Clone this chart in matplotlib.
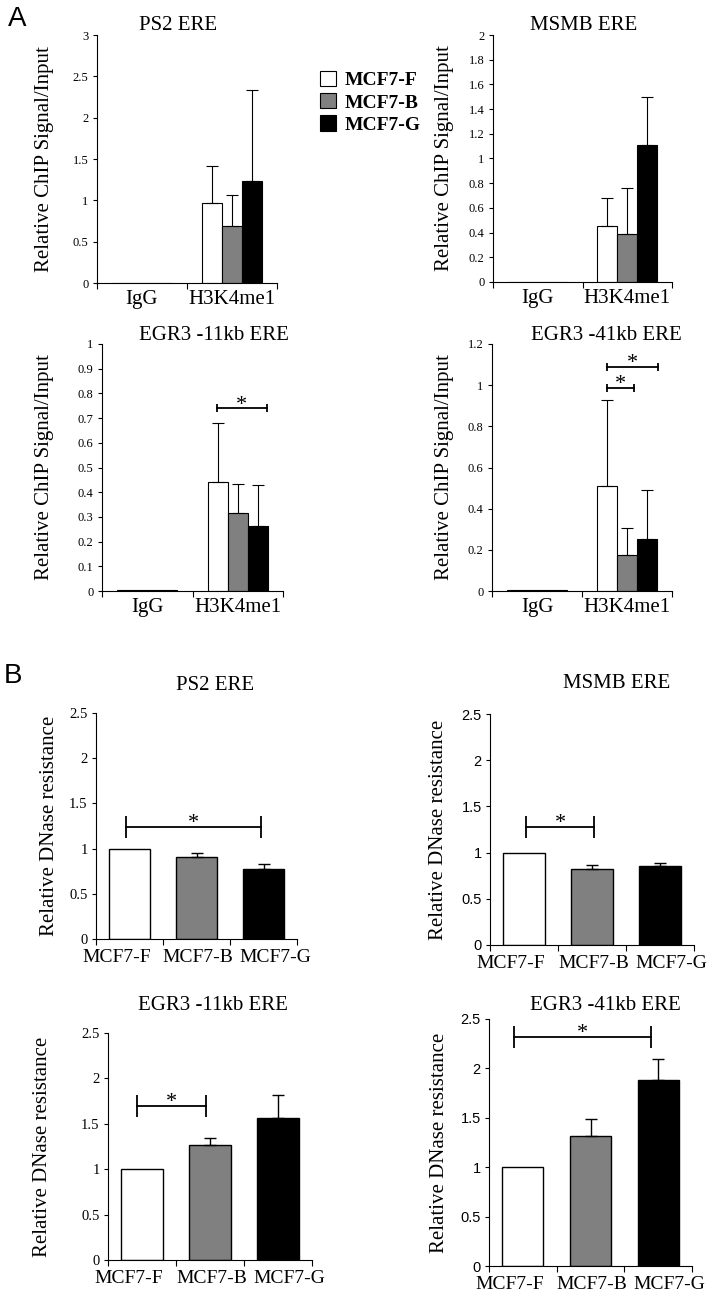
import numpy as np
import matplotlib.pyplot as plt
from matplotlib.ticker import FuncFormatter

W, H = 714, 1294
SERIF = 'Liberation Serif'
SANS = 'Liberation Sans'

lines = ['MCF7-F', 'MCF7-B', 'MCF7-G']
colors = ['white', '#808080', 'black']

# A: ChIP, per cell line -> [IgG, H3K4me1]
chip_cats = ['IgG', 'H3K4me1']
ps2_chip = [[0.004, 0.97], [0.004, 0.69], [0.005, 1.23]]
ps2_chip_err = [[0, 0.45], [0, 0.38], [0, 1.11]]
msmb_chip = [[0.002, 0.45], [0.003, 0.39], [0.003, 1.11]]
msmb_chip_err = [[0, 0.23], [0, 0.37], [0, 0.39]]
egr11_chip = [[0.004, 0.44], [0.004, 0.315], [0.004, 0.265]]
egr11_chip_err = [[0, 0.24], [0, 0.12], [0, 0.165]]
egr41_chip = [[0.004, 0.51], [0.004, 0.175], [0.004, 0.255]]
egr41_chip_err = [[0, 0.42], [0, 0.13], [0, 0.235]]

# B: DNase resistance, [F, B, G]
ps2_dnase = [1.0, 0.91, 0.775]
ps2_dnase_err = [0, 0.045, 0.055]
msmb_dnase = [1.0, 0.82, 0.85]
msmb_dnase_err = [0, 0.05, 0.04]
egr11_dnase = [1.0, 1.27, 1.56]
egr11_dnase_err = [0, 0.075, 0.26]
egr41_dnase = [1.0, 1.32, 1.88]
egr41_dnase_err = [0, 0.17, 0.22]

# significance brackets (x1, x2, y)
egr11_chip_sig = [(0.77, 1.32, 0.74)]
egr41_chip_sig = [(0.78, 1.08, 0.986), (0.78, 1.34, 1.088)]
ps2_dnase_sig = [(-0.05, 1.97, 1.24)]
msmb_dnase_sig = [(0.03, 1.03, 1.28)]
egr11_dnase_sig = [(-0.07, 0.94, 1.70)]
egr41_dnase_sig = [(-0.13, 1.89, 2.32)]

fig = plt.figure(figsize=(W / 100, H / 100), dpi=100)


def rect(l, t, r, b):
    return [l / W, 1 - b / H, (r - l) / W, (b - t) / H]


def fmt(v, pos):
    return f'{v:g}'


def base_axes(px, ncat, cats, ymax, step, tick_font, tick_size, cat_size, label_shift, pad):
    ax = fig.add_axes(rect(*px))
    ax.set_xlim(-0.5, ncat - 0.5)
    ax.set_ylim(0, ymax)
    for s in ['top', 'right']:
        ax.spines[s].set_visible(False)
    for s in ['left', 'bottom']:
        ax.spines[s].set_linewidth(0.8)
    ax.set_yticks(np.arange(0, ymax + step / 2, step))
    ax.yaxis.set_major_formatter(FuncFormatter(fmt))
    ax.tick_params(axis='y', length=3, width=0.8, pad=3)
    for t in ax.get_yticklabels():
        t.set_family(tick_font)
        t.set_fontsize(tick_size)
    ax.set_xticks(np.arange(-0.5, ncat, 1))
    ax.set_xticklabels([])
    ax.tick_params(axis='x', which='major', length=4, width=0.8)
    ax.set_xticks(np.arange(ncat) + np.array(label_shift), minor=True)
    ax.set_xticklabels(cats, minor=True, family=SERIF, fontsize=cat_size)
    ax.tick_params(axis='x', which='minor', length=0, pad=pad)
    return ax


def brackets(ax, sigs, ms, fs):
    for x1, x2, y in sigs:
        ax.plot([x1, x2], [y, y], color='black', lw=1.3, marker='|',
                markersize=ms, markeredgewidth=1.3)
        ax.annotate('*', ((x1 + x2) / 2, y), xytext=(0, -1), textcoords='offset points',
                    ha='center', va='baseline', fontsize=fs, family=SERIF)


def chip_panel(px, title, title_xy, ylab_x, means, errs, ymax, step, sigs=()):
    ax = base_axes(px, 2, chip_cats, ymax, step, SERIF, 9, 15, [0, 0], 5)
    x = np.arange(2)
    w = 0.222
    for i in range(3):
        xs = x + (i - 1) * w
        ax.bar(xs, means[i], w, color=colors[i], edgecolor='black', lw=0.8, label=lines[i])
        e = np.array(errs[i])
        m = e > 0
        ax.errorbar(xs[m], np.array(means[i])[m], yerr=[np.zeros(m.sum()), e[m]], fmt='none',
                    ecolor='black', elinewidth=0.8, capsize=4, capthick=0.8)
    brackets(ax, sigs, 6, 16)
    fig.text(title_xy[0] / W, 1 - title_xy[1] / H, title, family=SERIF, fontsize=15,
             ha='center', va='center')
    fig.text(ylab_x / W, 1 - (px[1] + px[3]) / 2 / H, 'Relative ChIP Signal/Input',
             family=SERIF, fontsize=15, rotation=90, ha='center', va='center')
    return ax


def dnase_panel(px, title, title_xy, ylab_x, means, errs, tick_font, sigs=()):
    ax = base_axes(px, 3, lines, 2.5, 0.5, tick_font, 10.5, 14, [-0.19, 0.02, 0.17], 7)
    x = np.arange(3)
    ax.bar(x, means, 0.61, color=colors, edgecolor='black', lw=1.0)
    e = np.array(errs)
    m = e > 0
    ax.errorbar(x[m], np.array(means)[m], yerr=[np.zeros(m.sum()), e[m]], fmt='none',
                ecolor='black', elinewidth=1.0, capsize=4, capthick=1.0)
    brackets(ax, sigs, 16, 16)
    fig.text(title_xy[0] / W, 1 - title_xy[1] / H, title, family=SERIF, fontsize=15,
             ha='center', va='center')
    fig.text(ylab_x / W, 1 - (px[1] + px[3]) / 2 / H, 'Relative DNase resistance',
             family=SERIF, fontsize=15, rotation=90, ha='center', va='center')
    return ax


a1 = chip_panel((97, 35, 277, 283), 'PS2 ERE', (178, 25), 45, ps2_chip, ps2_chip_err, 3, 0.5)
chip_panel((493, 35, 672, 282), 'MSMB ERE', (584, 25), 445, msmb_chip, msmb_chip_err, 2, 0.2)
chip_panel((102, 344, 283, 591), 'EGR3 -11kb ERE', (214, 335), 45, egr11_chip, egr11_chip_err,
           1, 0.1, egr11_chip_sig)
chip_panel((492, 344, 672, 591), 'EGR3 -41kb ERE', (606, 335), 445, egr41_chip, egr41_chip_err,
           1.2, 0.2, egr41_chip_sig)

dnase_panel((96, 713, 297, 939), 'PS2 ERE', (215, 685), 50, ps2_dnase, ps2_dnase_err, SERIF,
            ps2_dnase_sig)
dnase_panel((490, 714, 694, 945), 'MSMB ERE', (617, 683), 438, msmb_dnase, msmb_dnase_err, SANS,
            msmb_dnase_sig)
dnase_panel((108, 1033, 312, 1260), 'EGR3 -11kb ERE', (213, 1005), 43, egr11_dnase,
            egr11_dnase_err, SERIF, egr11_dnase_sig)
dnase_panel((489, 1019, 692, 1266), 'EGR3 -41kb ERE', (605, 1005), 440, egr41_dnase,
            egr41_dnase_err, SANS, egr41_dnase_sig)

handles, labels = a1.get_legend_handles_labels()
fig.legend(handles, labels, loc='upper left', bbox_to_anchor=(320 / W, 1 - 71 / H),
           frameon=False, borderpad=0, borderaxespad=0, handlelength=0.82, handleheight=0.82,
           handletextpad=0.45, labelspacing=0.2,
           prop={'family': SERIF, 'weight': 'bold', 'size': 14})

fig.text(17 / W, 1 - 19 / H, 'A', family=SANS, fontsize=20, ha='center', va='center')
fig.text(13 / W, 1 - 676 / H, 'B', family=SANS, fontsize=20, ha='center', va='center')

fig.savefig('out.png', dpi=100)
